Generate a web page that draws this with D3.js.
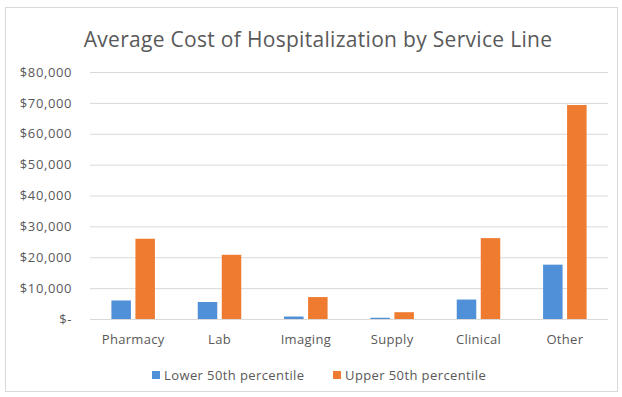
<!DOCTYPE html>
<html><head><meta charset="utf-8">
<script src="https://cdn.jsdelivr.net/npm/d3@7"></script>
<style>body{margin:0;background:#fff;}</style>
</head><body>
<svg id="c" width="622" height="397"></svg>
<script>
const categories = ["Pharmacy","Lab","Imaging","Supply","Clinical","Other"];
const seriesNames = ["Lower 50th percentile","Upper 50th percentile"];
const lowerValues = [6000, 5500, 800, 400, 6300, 17600];
const upperValues = [26000, 20800, 7100, 2200, 26200, 69300];
const yTicks = [0,10000,20000,30000,40000,50000,60000,70000,80000];
const colors = ["#4f90d8","#ee7b30"];

const svg = d3.select("#c");
const font = "'Open Sans', sans-serif";
svg.append("rect").attr("x",5.5).attr("y",7.5).attr("width",612).attr("height",384)
  .attr("fill","#fff").attr("stroke","#d9d9d9");

svg.append("text").attr("x",318).attr("y",47).attr("text-anchor","middle")
  .attr("font-family",font).attr("font-size",21).attr("letter-spacing",0.3).attr("fill","#595959")
  .text("Average Cost of Hospitalization by Service Line");

const m = {l:90, r:608, t:72, b:319};
const x = d3.scaleBand().domain(categories).range([m.l,m.r]);
const y = d3.scaleLinear().domain([0,80000]).range([m.b,m.t]);

const g = svg.append("g");
g.selectAll("line.grid").data(yTicks).join("line").attr("class","grid")
  .attr("x1",m.l).attr("x2",m.r).attr("y1",d=>y(d)+0.5).attr("y2",d=>y(d)+0.5)
  .attr("stroke","#d9d9d9").attr("stroke-width",1);

const yAxis = d3.axisLeft(y).tickValues(yTicks).tickSize(0).tickPadding(0)
  .tickFormat(d=> d===0 ? "$-" : "$"+d3.format(",")(d));
svg.append("g").attr("transform","translate(72,0)").call(yAxis)
  .call(a=>a.select(".domain").remove())
  .call(a=>a.selectAll("text").attr("font-family",font).attr("font-size",13).attr("letter-spacing",0.6).attr("fill","#595959"));

const xAxis = d3.axisBottom(x).tickSize(0).tickPadding(0);
svg.append("g").attr("transform",`translate(0,${m.b+16})`).call(xAxis)
  .call(a=>a.select(".domain").remove())
  .call(a=>a.selectAll("text").attr("font-family",font).attr("font-size",13).attr("letter-spacing",0.3).attr("fill","#595959"));

const bw = 19.5, gap = 4.5;
const series = [lowerValues, upperValues];
series.forEach((vals,si)=>{
  g.selectAll("rect.s"+si).data(categories).join("rect").attr("class","s"+si)
    .attr("x",c=> x(c)+x.bandwidth()/2 + (si===0 ? -gap/2-bw : gap/2))
    .attr("width",bw)
    .attr("y",(c,i)=>y(vals[i]))
    .attr("height",(c,i)=>m.b - y(vals[i]))
    .attr("fill",colors[si]);
});

const legX = [152, 333];
seriesNames.forEach((n,i)=>{
  svg.append("rect").attr("x",legX[i]).attr("y",371).attr("width",8).attr("height",8).attr("fill",colors[i]);
  svg.append("text").attr("x",legX[i]+12).attr("y",379.5).attr("font-family",font)
    .attr("font-size",13).attr("letter-spacing",0.4).attr("fill","#595959").text(n);
});
</script>
</body></html>
